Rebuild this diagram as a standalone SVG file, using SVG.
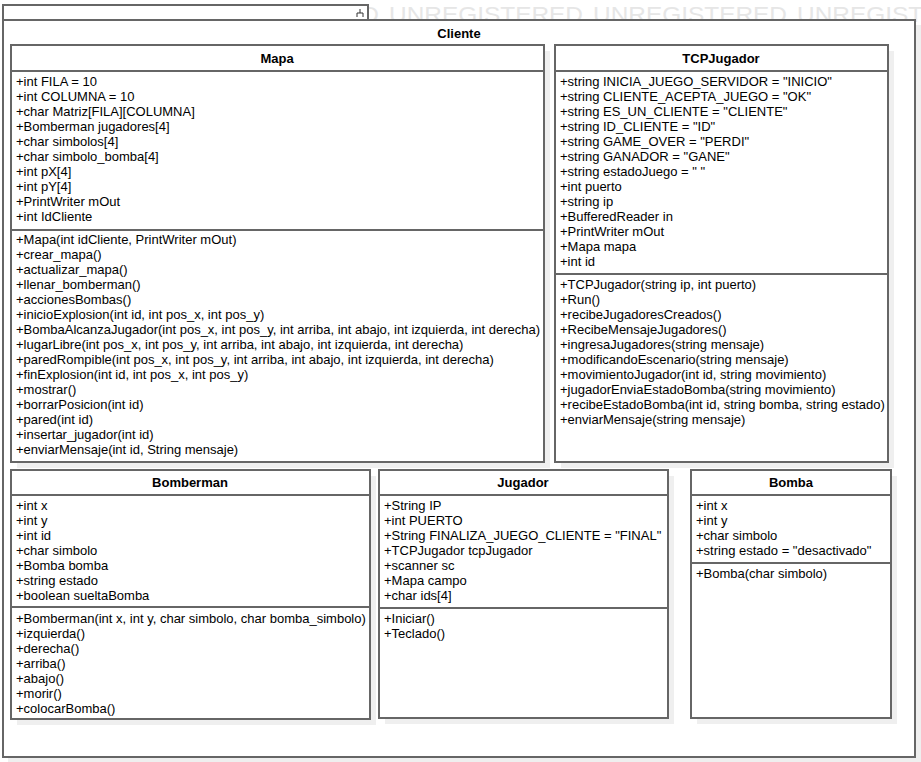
<svg xmlns="http://www.w3.org/2000/svg" width="921" height="762" viewBox="0 0 921 762">
<style>
.wm{font-family:"Liberation Sans",Arial,sans-serif;font-size:22px;fill:#e6e6e6;}
.box{fill:#ffffff;stroke:#666666;stroke-width:2;}
.sh{fill:#efefef;stroke:none;}
.sep{stroke:#666666;stroke-width:2;fill:none;}
.t{font-family:"Liberation Sans",Arial,sans-serif;font-size:13px;fill:#000000;}
.h{font-family:"Liberation Sans",Arial,sans-serif;font-size:13px;font-weight:bold;fill:#000000;text-anchor:middle;}
</style>
<rect width="921" height="762" fill="#ffffff"/>
<g id="watermark">
<text class="wm" x="185" y="22" textLength="194" lengthAdjust="spacingAndGlyphs">UNREGISTERED</text>
<text class="wm" x="389" y="22" textLength="194" lengthAdjust="spacingAndGlyphs">UNREGISTERED</text>
<text class="wm" x="593" y="22" textLength="194" lengthAdjust="spacingAndGlyphs">UNREGISTERED</text>
<text class="wm" x="797" y="22" textLength="194" lengthAdjust="spacingAndGlyphs">UNREGISTERED</text>
<text class="wm" x="13" y="776" textLength="194" lengthAdjust="spacingAndGlyphs">UNREGISTERED</text>
<text class="wm" x="217" y="776" textLength="194" lengthAdjust="spacingAndGlyphs">UNREGISTERED</text>
<text class="wm" x="421" y="776" textLength="194" lengthAdjust="spacingAndGlyphs">UNREGISTERED</text>
<text class="wm" x="625" y="776" textLength="194" lengthAdjust="spacingAndGlyphs">UNREGISTERED</text>
<text class="wm" x="829" y="776" textLength="194" lengthAdjust="spacingAndGlyphs">UNREGISTERED</text>
</g>
<g id="Cliente">
<rect class="sh" x="8" y="25" width="913" height="737"/>
<rect class="box" x="3" y="5" width="365" height="15"/>
<path d="M357 17 V13 H363 V17 M360 13 V9" stroke="#333" stroke-width="1" fill="none"/>
<rect class="box" x="3" y="20" width="912" height="737"/>
<text class="h" x="459" y="38">Cliente</text>
</g>
<g id="Mapa">
<rect class="sh" x="17" y="51" width="533" height="417"/>
<rect class="box" x="11" y="45" width="533" height="417"/>
<line class="sep" x1="11" y1="71" x2="544" y2="71"/>
<line class="sep" x1="11" y1="230" x2="544" y2="230"/>
<text class="h" x="277" y="63">Mapa</text>
<text class="t" x="16" y="86">+int FILA = 10</text>
<text class="t" x="16" y="101">+int COLUMNA = 10</text>
<text class="t" x="16" y="116">+char Matriz[FILA][COLUMNA]</text>
<text class="t" x="16" y="131">+Bomberman jugadores[4]</text>
<text class="t" x="16" y="146">+char simbolos[4]</text>
<text class="t" x="16" y="161">+char simbolo_bomba[4]</text>
<text class="t" x="16" y="176">+int pX[4]</text>
<text class="t" x="16" y="191">+int pY[4]</text>
<text class="t" x="16" y="206">+PrintWriter mOut</text>
<text class="t" x="16" y="221">+int IdCliente</text>
<text class="t" x="16" y="244">+Mapa(int idCliente, PrintWriter mOut)</text>
<text class="t" x="16" y="259">+crear_mapa()</text>
<text class="t" x="16" y="274">+actualizar_mapa()</text>
<text class="t" x="16" y="289">+llenar_bomberman()</text>
<text class="t" x="16" y="304">+accionesBombas()</text>
<text class="t" x="16" y="319">+inicioExplosion(int id, int pos_x, int pos_y)</text>
<text class="t" x="16" y="334">+BombaAlcanzaJugador(int pos_x, int pos_y, int arriba, int abajo, int izquierda, int derecha)</text>
<text class="t" x="16" y="349">+lugarLibre(int pos_x, int pos_y, int arriba, int abajo, int izquierda, int derecha)</text>
<text class="t" x="16" y="364">+paredRompible(int pos_x, int pos_y, int arriba, int abajo, int izquierda, int derecha)</text>
<text class="t" x="16" y="379">+finExplosion(int id, int pos_x, int pos_y)</text>
<text class="t" x="16" y="394">+mostrar()</text>
<text class="t" x="16" y="409">+borrarPosicion(int id)</text>
<text class="t" x="16" y="424">+pared(int id)</text>
<text class="t" x="16" y="439">+insertar_jugador(int id)</text>
<text class="t" x="16" y="454">+enviarMensaje(int id, String mensaje)</text>
</g>
<g id="TCPJugador">
<rect class="sh" x="561" y="51" width="333" height="417"/>
<rect class="box" x="555" y="45" width="333" height="417"/>
<line class="sep" x1="555" y1="71" x2="888" y2="71"/>
<line class="sep" x1="555" y1="274" x2="888" y2="274"/>
<text class="h" x="721" y="63">TCPJugador</text>
<text class="t" x="560" y="86">+string INICIA_JUEGO_SERVIDOR = "INICIO"</text>
<text class="t" x="560" y="101">+string CLIENTE_ACEPTA_JUEGO = "OK"</text>
<text class="t" x="560" y="116">+string ES_UN_CLIENTE = "CLIENTE"</text>
<text class="t" x="560" y="131">+string ID_CLIENTE = "ID"</text>
<text class="t" x="560" y="146">+string GAME_OVER = "PERDI"</text>
<text class="t" x="560" y="161">+string GANADOR = "GANE"</text>
<text class="t" x="560" y="176">+string estadoJuego = " "</text>
<text class="t" x="560" y="191">+int puerto</text>
<text class="t" x="560" y="206">+string ip</text>
<text class="t" x="560" y="221">+BufferedReader in</text>
<text class="t" x="560" y="236">+PrintWriter mOut</text>
<text class="t" x="560" y="251">+Mapa mapa</text>
<text class="t" x="560" y="266">+int id</text>
<text class="t" x="560" y="289">+TCPJugador(string ip, int puerto)</text>
<text class="t" x="560" y="304">+Run()</text>
<text class="t" x="560" y="319">+recibeJugadoresCreados()</text>
<text class="t" x="560" y="334">+RecibeMensajeJugadores()</text>
<text class="t" x="560" y="349">+ingresaJugadores(string mensaje)</text>
<text class="t" x="560" y="364">+modificandoEscenario(string mensaje)</text>
<text class="t" x="560" y="379">+movimientoJugador(int id, string movimiento)</text>
<text class="t" x="560" y="394">+jugadorEnviaEstadoBomba(string movimiento)</text>
<text class="t" x="560" y="409">+recibeEstadoBomba(int id, string bomba, string estado)</text>
<text class="t" x="560" y="424">+enviarMensaje(string mensaje)</text>
</g>
<g id="Bomberman">
<rect class="sh" x="17" y="476" width="359" height="249"/>
<rect class="box" x="11" y="470" width="359" height="249"/>
<line class="sep" x1="11" y1="495" x2="370" y2="495"/>
<line class="sep" x1="11" y1="607" x2="370" y2="607"/>
<text class="h" x="190" y="487">Bomberman</text>
<text class="t" x="16" y="510">+int x</text>
<text class="t" x="16" y="525">+int y</text>
<text class="t" x="16" y="540">+int id</text>
<text class="t" x="16" y="555">+char simbolo</text>
<text class="t" x="16" y="570">+Bomba bomba</text>
<text class="t" x="16" y="585">+string estado</text>
<text class="t" x="16" y="600">+boolean sueltaBomba</text>
<text class="t" x="16" y="623">+Bomberman(int x, int y, char simbolo, char bomba_simbolo)</text>
<text class="t" x="16" y="638">+izquierda()</text>
<text class="t" x="16" y="653">+derecha()</text>
<text class="t" x="16" y="668">+arriba()</text>
<text class="t" x="16" y="683">+abajo()</text>
<text class="t" x="16" y="698">+morir()</text>
<text class="t" x="16" y="713">+colocarBomba()</text>
</g>
<g id="Jugador">
<rect class="sh" x="385" y="476" width="289" height="248"/>
<rect class="box" x="379" y="470" width="289" height="248"/>
<line class="sep" x1="379" y1="495" x2="668" y2="495"/>
<line class="sep" x1="379" y1="608" x2="668" y2="608"/>
<text class="h" x="523" y="487">Jugador</text>
<text class="t" x="384" y="510">+String IP</text>
<text class="t" x="384" y="525">+int PUERTO</text>
<text class="t" x="384" y="540">+String FINALIZA_JUEGO_CLIENTE = "FINAL"</text>
<text class="t" x="384" y="555">+TCPJugador tcpJugador</text>
<text class="t" x="384" y="570">+scanner sc</text>
<text class="t" x="384" y="585">+Mapa campo</text>
<text class="t" x="384" y="600">+char ids[4]</text>
<text class="t" x="384" y="623">+Iniciar()</text>
<text class="t" x="384" y="638">+Teclado()</text>
</g>
<g id="Bomba">
<rect class="sh" x="697" y="476" width="200" height="248"/>
<rect class="box" x="691" y="470" width="200" height="248"/>
<line class="sep" x1="691" y1="495" x2="891" y2="495"/>
<line class="sep" x1="691" y1="563" x2="891" y2="563"/>
<text class="h" x="791" y="487">Bomba</text>
<text class="t" x="696" y="510">+int x</text>
<text class="t" x="696" y="525">+int y</text>
<text class="t" x="696" y="540">+char simbolo</text>
<text class="t" x="696" y="555">+string estado = "desactivado"</text>
<text class="t" x="696" y="578">+Bomba(char simbolo)</text>
</g>
<g id="connectors"></g>
</svg>
